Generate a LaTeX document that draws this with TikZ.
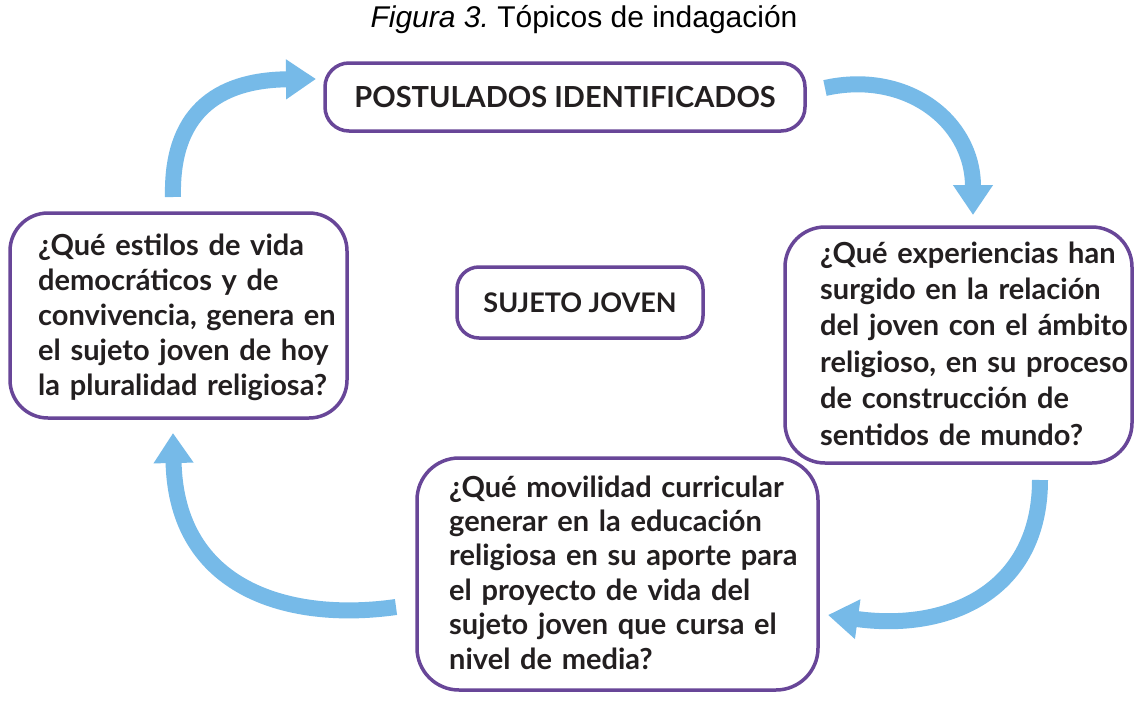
\documentclass[tikz,border=0pt]{standalone}
\usepackage{fontspec}
\usetikzlibrary{arrows.meta}
\newfontfamily\arialfont{Liberation Sans}
\newfontfamily\boxfont{Lato}
\definecolor{purp}{RGB}{104,70,152}
\definecolor{skyb}{RGB}{118,186,232}
\definecolor{ink}{RGB}{35,31,32}
\pgfdeclarelayer{bg}
\pgfsetlayers{bg,main}
\tikzset{
  box/.style={draw=purp, line width=3.5pt, fill=white, inner sep=0pt, text=ink},
  ttxt/.style={box, align=center, font=\boxfont\bfseries\fontsize{29}{35}\selectfont},
  qtxt/.style={inner sep=0pt, text=ink, anchor=base west, align=left, text width=420pt,
    font=\boxfont\bfseries\fontsize{29}{35}\selectfont},
  conn/.style={draw=purp, line width=3.2pt, shorten <=-3pt, shorten >=-3pt},
  flow/.style={draw=skyb, line width=16pt, -{Triangle[width=38pt,length=30pt]}},
}
\begin{document}
\frenchspacing
\begin{tikzpicture}[x=1pt,y=-1pt]
\useasboundingbox[fill=white] (0,0) rectangle (1136,702);
\node[font=\arialfont\fontsize{30}{36}\selectfont, anchor=base, inner sep=0pt] (title) at (584,27) {\textit{Figura 3.} Tópicos de indagación};
% boxes
\node[ttxt, minimum width=480pt, minimum height=68pt, rounded corners=24pt] (post) at (565,97) {POSTULADOS IDENTIFICADOS};
\node[ttxt, font=\boxfont\bfseries\fontsize{27}{32}\selectfont, minimum width=246pt, minimum height=71pt, rounded corners=22pt] (suj) at (580,302.5) {SUJETO JOVEN};
\node[box, minimum width=337pt, minimum height=205pt, rounded corners=38pt] (left) at (178.5,315.5) {};
\node[box, minimum width=347pt, minimum height=236pt, rounded corners=40pt] (right) at (958.5,345) {};
\node[box, minimum width=401pt, minimum height=232pt, rounded corners=42pt] (bot) at (617.5,574) {};
% questions
\node[qtxt] (leftq) at (38,255) {¿Qué estilos de vida\\democráticos y de\\convivencia, genera en\\el sujeto joven de hoy\\la pluralidad religiosa?};
\node[qtxt, font=\boxfont\bfseries\fontsize{29}{36.4}\selectfont] (rightq) at (820,263) {¿Qué experiencias han\\surgido en la relación\\del joven con el ámbito\\religioso, en su proceso\\de construcción de\\sentidos de mundo?};
\node[qtxt, font=\boxfont\bfseries\fontsize{29}{34.4}\selectfont] (botq) at (449,497) {¿Qué movilidad curricular\\generar en la educación\\religiosa en su aporte para\\el proyecto de vida del\\sujeto joven que cursa el\\nivel de media?};
% connectors
\begin{pgfonlayer}{bg}
\draw[conn] (post.273) -- (suj.74);
\draw[conn] (suj.180) -- (left.east);
\draw[conn] (suj.348) -- (right.185);
\draw[conn] (suj.296) -- (bot.115);
\end{pgfonlayer}
% cycle arrows
\coordinate (a1s) at (173,197);
\coordinate (a1e) at (316,79);
\coordinate (a2s) at (825,88);
\coordinate (a2e) at (973,215);
\coordinate (a3s) at (1040,480);
\coordinate (a3e) at (828,615);
\coordinate (a4s) at (396,607);
\coordinate (a4e) at (173,433);
\draw[flow] (a1s) .. controls (171,115) and (215,80) .. (a1e);
\draw[flow] (a2s) .. controls (905,70) and (973,120) .. (a2e);
\draw[flow] (a3s) .. controls (1040,590) and (950,632) .. (a3e);
\draw[flow] (a4s) .. controls (290,622) and (176,590) .. (a4e);
\end{tikzpicture}
\end{document}
